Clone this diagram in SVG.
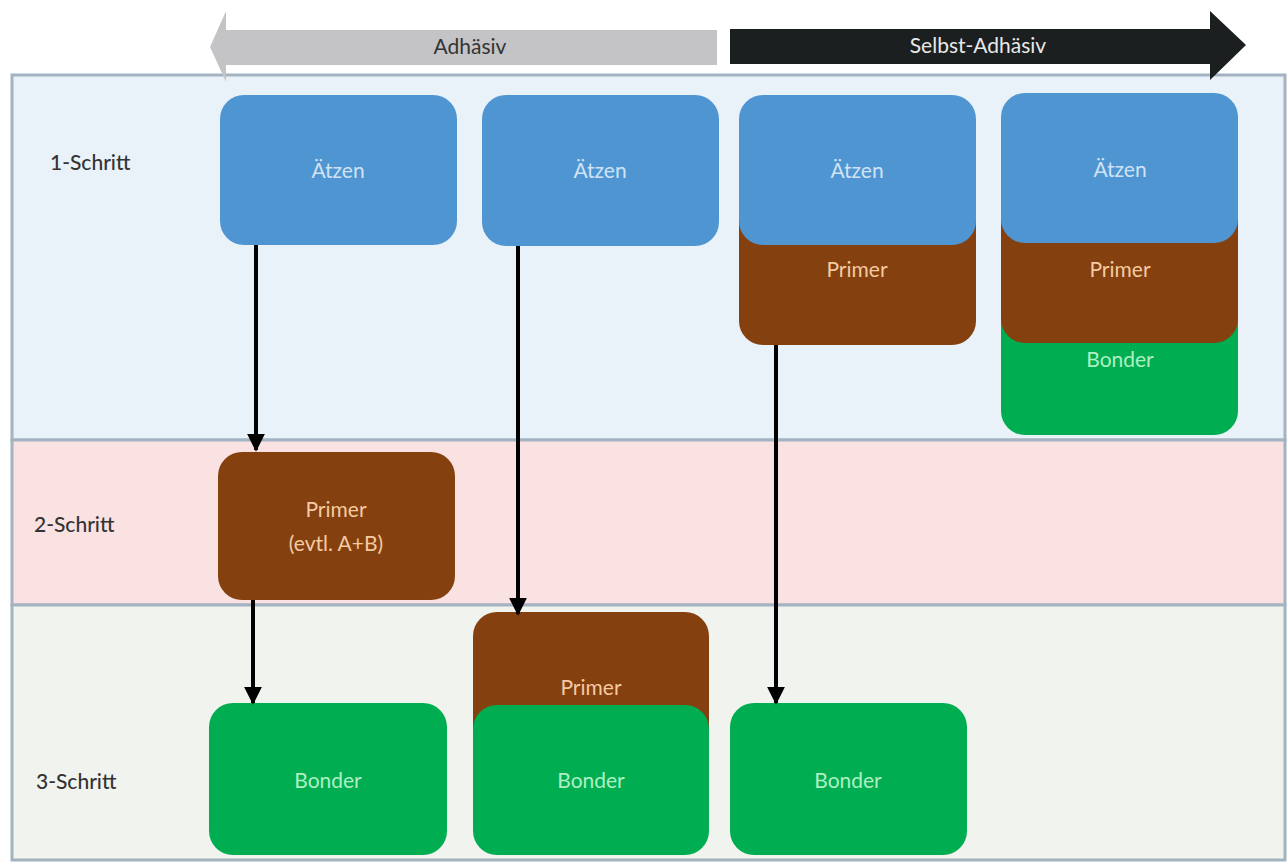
<svg xmlns="http://www.w3.org/2000/svg" width="1287" height="865" viewBox="0 0 1287 865">
<defs>
<style>
.lane{stroke:#a4b3c1;stroke-width:3}
.lbl{font-family:Lato,"Open Sans","Liberation Sans",sans-serif;font-size:21px;font-weight:500;fill:#333}
.t{font-family:Lato,"Open Sans","Liberation Sans",sans-serif;font-size:21px;text-anchor:middle}
.blue{fill:#4f95d1}.brown{fill:#84400e}.green{fill:#00ad50}
.tb{fill:#cfe3f5}.tp{fill:#f4caa2}.tg{fill:#aef0c4}
.con{stroke:#000;stroke-width:4;fill:none}
</style>
<marker id="ah" viewBox="0 0 10 10" refX="9" refY="5" markerWidth="4.5" markerHeight="4.5" orient="auto" markerUnits="strokeWidth">
<path d="M0,0 L10,5 L0,10 Z" fill="#000"/>
</marker>
</defs>
<rect width="1287" height="865" fill="#fff"/>
<g id="lanes">
<rect class="lane" x="12" y="75" width="1273" height="365" fill="#e9f1f9"/>
<rect class="lane" x="12" y="440" width="1273" height="165" fill="#f9e2e1"/>
<rect class="lane" x="12" y="605" width="1273" height="255" fill="#f1f4ee"/>
<text class="lbl" x="50" y="170">1-Schritt</text>
<text class="lbl" x="34" y="532">2-Schritt</text>
<text class="lbl" x="36" y="789">3-Schritt</text>
</g>
<g id="direction">
<path d="M717,30 L226,30 L226,11 L210,47 L226,82 L226,65 L717,65 Z" fill="#c4c4c6"/>
<path d="M730,29 L1210,29 L1210,11 L1246,45 L1210,80 L1210,64 L730,64 Z" fill="#1b1f20"/>
<text class="t" x="470" y="54" fill="#333">Adhäsiv</text>
<text class="t" x="978" y="53" fill="#e8e8e8">Selbst-Adhäsiv</text>
</g>
<g id="c1-aetzen">
<rect class="blue" x="220" y="95" width="237" height="150" rx="24"/>
<text class="t tb" x="338" y="178">Ätzen</text>
</g>
<g id="c1-primer">
<rect class="brown" x="218" y="452" width="237" height="148" rx="24"/>
<text class="t tp" x="336" y="517">Primer</text>
<text class="t tp" x="336" y="551">(evtl. A+B)</text>
</g>
<g id="c1-bonder">
<rect class="green" x="209" y="703" width="238" height="152" rx="24"/>
<text class="t tg" x="328" y="788">Bonder</text>
</g>
<g id="c2-aetzen">
<rect class="blue" x="482" y="95" width="237" height="151" rx="24"/>
<text class="t tb" x="600" y="178">Ätzen</text>
</g>
<g id="c2-primer-bonder">
<rect class="brown" x="473" y="612" width="236" height="150" rx="24"/>
<rect class="green" x="473" y="705" width="236" height="150" rx="24"/>
<text class="t tp" x="591" y="695">Primer</text>
<text class="t tg" x="591" y="788">Bonder</text>
</g>
<g id="c3-aetzen-primer">
<rect class="brown" x="739" y="195" width="237" height="150" rx="24"/>
<rect class="blue" x="739" y="95" width="237" height="150" rx="24"/>
<text class="t tb" x="857" y="178">Ätzen</text>
<text class="t tp" x="857" y="277">Primer</text>
</g>
<g id="c3-bonder">
<rect class="green" x="730" y="703" width="237" height="152" rx="24"/>
<text class="t tg" x="848" y="788">Bonder</text>
</g>
<g id="c4-aetzen-primer-bonder">
<rect class="green" x="1001" y="290" width="237" height="145" rx="24"/>
<rect class="brown" x="1001" y="193" width="237" height="150" rx="24"/>
<rect class="blue" x="1001" y="93" width="237" height="150" rx="24"/>
<text class="t tb" x="1120" y="177">Ätzen</text>
<text class="t tp" x="1120" y="277">Primer</text>
<text class="t tg" x="1120" y="367">Bonder</text>
</g>
<g id="connectors">
<line class="con" x1="256" y1="245" x2="256" y2="450" marker-end="url(#ah)"/>
<line class="con" x1="253" y1="600" x2="253" y2="703" marker-end="url(#ah)"/>
<line class="con" x1="518" y1="246" x2="518" y2="614" marker-end="url(#ah)"/>
<line class="con" x1="776" y1="345" x2="776" y2="703" marker-end="url(#ah)"/>
</g>
</svg>
